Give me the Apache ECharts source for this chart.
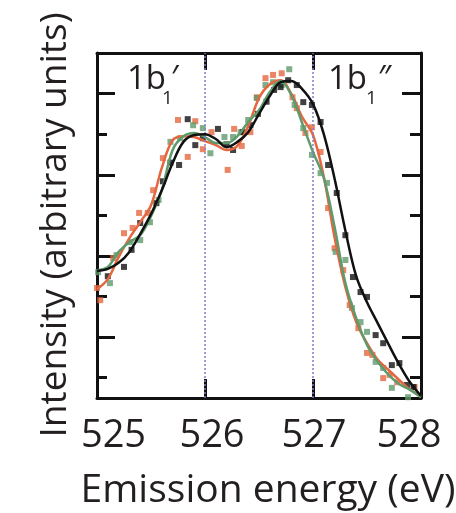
<!DOCTYPE html>
<html>
<head>
<meta charset="utf-8">
<script src="https://cdn.jsdelivr.net/npm/echarts@6/dist/echarts.min.js"></script>
<style>
  html, body { margin: 0; padding: 0; background: #ffffff; }
  #chart { width: 456px; height: 513px; }
</style>
</head>
<body>
<div id="chart"></div>
<script>
// Emission energy axis ticks (eV)
const xTicks = [525, 526, 527, 528];
// Reference energies marked by dotted guide lines (eV)
const guideEnergies = [526, 527];

// Energy grid of the smoothed fit curves (eV)
const fitEnergy = [525.0, 525.1, 525.2, 525.3, 525.4, 525.5, 525.6, 525.7, 525.8, 525.9,
  526.0, 526.1, 526.2, 526.3, 526.4, 526.5, 526.6, 526.7, 526.8, 526.9,
  527.0, 527.1, 527.2, 527.3, 527.4, 527.5, 527.6, 527.7, 527.8, 527.9, 528.0];

// Smoothed spectra (arbitrary units)
const blackFit = [3.13, 3.18, 3.33, 3.60, 4.04, 4.53, 5.12, 5.79, 6.31, 6.48,
  6.50, 6.38, 6.18, 6.31, 6.55, 7.00, 7.44, 7.78, 7.81, 7.61,
  7.24, 6.50, 5.40, 4.12, 3.00, 2.36, 1.84, 1.32, 0.82, 0.38, 0.05];
const orangeFit = [2.68, 2.93, 3.47, 3.94, 4.33, 4.75, 5.67, 6.35, 6.45, 6.43,
  6.33, 6.23, 6.11, 6.21, 6.70, 7.39, 7.73, 7.83, 7.49, 6.92,
  6.48, 5.45, 3.95, 2.73, 1.87, 1.35, 0.94, 0.69, 0.44, 0.20, 0.05];
const greenFit = [3.15, 3.23, 3.60, 3.84, 4.01, 4.48, 5.12, 6.11, 6.45, 6.53,
  6.43, 6.28, 6.28, 6.45, 6.80, 7.09, 7.54, 7.81, 7.46, 6.77,
  6.06, 5.42, 4.21, 2.83, 1.97, 1.31, 0.89, 0.57, 0.34, 0.20, 0.02];

// Measured points
const blackEnergy = [525.10, 525.25, 525.32, 525.40, 525.55, 525.61, 525.68, 525.76, 525.84, 525.91,
  525.98, 526.12, 526.20, 526.26, 526.35, 526.42, 526.49, 526.57, 526.64, 526.70,
  526.77, 526.85, 526.91, 526.99, 527.07, 527.14, 527.22, 527.30, 527.37, 527.44,
  527.50, 527.58, 527.65, 527.73, 527.80, 527.87, 527.93];
const blackIntensity = [3.00, 3.23, 3.65, 4.31, 4.80, 5.34, 5.80, 5.74, 6.87, 6.23,
  6.40, 6.63, 6.25, 6.11, 6.55, 6.72, 7.00, 7.30, 7.59, 7.66,
  7.83, 7.71, 7.29, 7.22, 6.80, 5.74, 5.05, 4.01, 2.98, 2.61,
  2.49, 1.55, 1.35, 0.81, 0.86, 0.32, 0.27];

const orangeEnergy = [525.00, 525.03, 525.15, 525.25, 525.33, 525.39, 525.47, 525.52, 525.61, 525.75,
  525.84, 525.91, 525.98, 526.06, 526.21, 526.27, 526.34, 526.42, 526.48, 526.56,
  526.63, 526.71, 526.81, 526.85, 526.93, 526.99, 527.07, 527.14, 527.20, 527.28,
  527.34, 527.42, 527.50, 527.55, 527.65, 527.71, 527.78, 527.94];
const orangeIntensity = [2.71, 2.41, 3.45, 4.06, 4.19, 4.56, 4.56, 5.12, 5.91, 6.85,
  5.94, 6.82, 6.13, 6.55, 5.62, 6.63, 6.21, 6.55, 7.41, 7.88,
  7.96, 8.00, 7.41, 7.14, 6.53, 6.67, 6.06, 4.68, 3.69, 3.15,
  2.29, 1.72, 1.11, 1.06, 0.49, 0.57, 0.39, 0.27];

const greenEnergy = [525.01, 525.12, 525.18, 525.31, 525.40, 525.49, 525.57, 525.68, 525.77, 525.89,
  525.98, 526.05, 526.18, 526.26, 526.33, 526.40, 526.48, 526.56, 526.63, 526.71,
  526.78, 526.83, 526.91, 526.99, 527.07, 527.13, 527.21, 527.30, 527.36, 527.44,
  527.50, 527.58, 527.65, 527.73, 527.88];
const greenIntensity = [3.10, 2.83, 3.52, 3.84, 3.89, 4.33, 4.88, 6.31, 6.40, 6.72,
  6.65, 6.03, 6.43, 6.43, 6.55, 6.85, 7.39, 7.71, 7.78, 7.71,
  8.10, 7.22, 6.65, 5.99, 5.54, 5.30, 3.60, 3.40, 2.22, 1.87,
  1.63, 0.89, 0.74, 0.25, 0.02];

const BLACK = '#111111';
const ORANGE = '#e5673f';
const GREEN = '#5f9a6c';
const INK = '#231f20';
const FONT = '"Open Sans", "Noto Sans", sans-serif';

const zip = (xs, ys) => xs.map((x, i) => [x, ys[i]]);

const chart = echarts.init(document.getElementById('chart'), null, { renderer: 'canvas' });

const frameLine = { show: true, onZero: false, lineStyle: { color: BLACK, width: 3 } };
const noLabel = { show: false };
const noSplit = { show: false };

function yAxisSide(position, values, length, showLine) {
  return {
    type: 'value', position: position, min: 0, max: 8.5,
    axisLine: showLine ? frameLine : { show: false },
    axisTick: { show: true, inside: true, length: length, customValues: values,
      lineStyle: { color: BLACK, width: 3 } },
    axisLabel: noLabel, splitLine: noSplit
  };
}

// Per-label horizontal nudges for the energy tick labels
const labelShift = [
  { padding: [0, 0, 0, 33] },
  { padding: [0, 0, 0, 14] },
  { padding: [0, 0, 0, 2] },
  { padding: [0, 24, 0, 0] }
];
const rich = {};
labelShift.forEach((s, i) => {
  rich['t' + i] = Object.assign({ fontFamily: FONT, fontSize: 38, color: INK }, s);
});

function fitSeries(name, data, color, width, z) {
  return {
    name: name, type: 'line', data: data, smooth: 0.35, showSymbol: false,
    lineStyle: { color: color, width: width }, z: z, silent: true
  };
}
function pointSeries(name, data, color, z) {
  return {
    name: name, type: 'scatter', data: data, symbol: 'rect', symbolSize: 6,
    itemStyle: { color: color }, z: z, silent: true
  };
}

const option = {
  backgroundColor: '#ffffff',
  animation: false,
  grid: { left: 97, right: 35, top: 53, bottom: 115, containLabel: false },
  xAxis: [
    {
      type: 'value', position: 'bottom', min: 525, max: 528, interval: 1,
      axisLine: frameLine,
      axisTick: { show: true, inside: true, length: 19, lineStyle: { color: BLACK, width: 3 } },
      axisLabel: {
        show: true, margin: 19, fontFamily: FONT, fontSize: 38, color: INK,
        showMinLabel: true, showMaxLabel: true,
        formatter: v => '{t' + xTicks.indexOf(v) + '|' + v + '}',
        rich: rich
      },
      splitLine: noSplit
    },
    {
      type: 'value', position: 'top', min: 525, max: 528, interval: 1,
      axisLine: frameLine,
      axisTick: { show: true, inside: true, length: 17, lineStyle: { color: BLACK, width: 3 } },
      axisLabel: noLabel, splitLine: noSplit
    }
  ],
  yAxis: [
    yAxisSide('left', [1.5, 3.5, 5.5, 7.5], 18, true),
    yAxisSide('left', [0.5, 2.5, 4.5, 6.5], 10, false),
    yAxisSide('right', [1.5, 3.5, 5.5, 7.5], 19, true),
    yAxisSide('right', [0.5, 2.5, 4.5, 6.5], 11, false)
  ],
  series: [
    {
      name: 'guides', type: 'line', data: [], silent: true,
      markLine: {
        silent: true, symbol: ['none', 'none'], label: { show: false },
        lineStyle: { color: '#8080cc', type: [2, 2], width: 1.5 },
        data: guideEnergies.map(e => ({ xAxis: e }))
      }
    },
    pointSeries('orange points', zip(orangeEnergy, orangeIntensity), ORANGE, 2),
    pointSeries('green points', zip(greenEnergy, greenIntensity), GREEN, 2),
    pointSeries('black points', zip(blackEnergy, blackIntensity), BLACK, 2),
    fitSeries('orange fit', zip(fitEnergy, orangeFit), ORANGE, 2.5, 3),
    fitSeries('green fit', zip(fitEnergy, greenFit), GREEN, 2.5, 4),
    fitSeries('black fit', zip(fitEnergy, blackFit), BLACK, 2.5, 5)
  ],
  graphic: [
    { type: 'text', left: 127, top: 63, style: { text: '1b', font: '33px ' + FONT, fill: INK } },
    { type: 'text', left: 162, top: 89, style: { text: '1', font: '19px ' + FONT, fill: INK } },
    { type: 'text', left: 171, top: 63, style: { text: '′', font: '33px ' + FONT, fill: INK } },
    { type: 'text', left: 328, top: 63, style: { text: '1b', font: '33px ' + FONT, fill: INK } },
    { type: 'text', left: 366, top: 89, style: { text: '1', font: '19px ' + FONT, fill: INK } },
    { type: 'text', left: 378, top: 63, style: { text: '″', font: '33px ' + FONT, fill: INK } },
    {
      type: 'text', x: 268, y: 491,
      style: { text: 'Emission energy (eV)', font: '39px ' + FONT, fill: INK,
        textAlign: 'center', textVerticalAlign: 'middle' }
    },
    {
      type: 'text', x: 55, y: 225, rotation: Math.PI / 2,
      style: { text: 'Intensity (arbitrary units)', font: '37px ' + FONT, fill: INK,
        textAlign: 'center', textVerticalAlign: 'middle' }
    }
  ]
};

chart.setOption(option);
</script>
</body>
</html>
